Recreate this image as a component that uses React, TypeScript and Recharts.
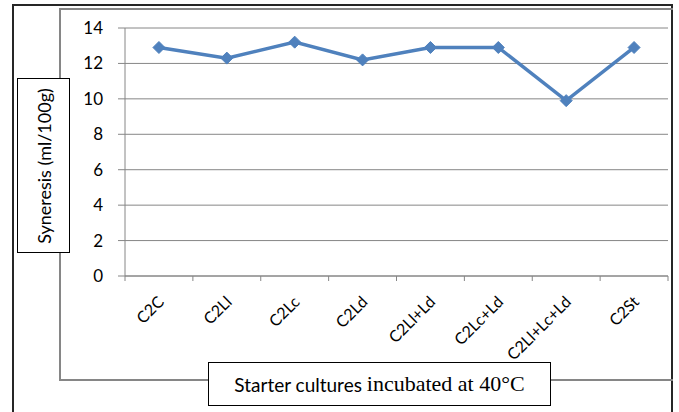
import { CartesianGrid, Line, LineChart, XAxis, YAxis } from "recharts";

const categories = ["C2C", "C2Ll", "C2Lc", "C2Ld", "C2Ll+Ld", "C2Lc+Ld", "C2Ll+Lc+Ld", "C2St"];
const syneresis = [12.9, 12.3, 13.2, 12.2, 12.9, 12.9, 9.9, 12.9];
const yTicks = [0, 2, 4, 6, 8, 10, 12, 14];

const chartData = categories.map((name, i) => ({ name, value: syneresis[i] }));

const PLOT_LEFT = 125;
const PLOT_RIGHT = 668;
const HALF_STEP = (PLOT_RIGHT - PLOT_LEFT) / categories.length / 2;
const FONT = "Lato, 'Open Sans', sans-serif";

const Diamond = (props: any) => {
  const { cx, cy } = props;
  if (cx == null || cy == null) return null;
  const r = 6;
  return (
    <polygon
      points={`${cx},${cy - r} ${cx + r},${cy} ${cx},${cy + r} ${cx - r},${cy}`}
      fill="#4F81BD"
      stroke="#4F81BD"
    />
  );
};

const XTick = (props: any) => {
  const { x, y, payload, index } = props;
  const last = index === categories.length - 1;
  return (
    <g>
      <line x1={x - HALF_STEP} x2={x - HALF_STEP} y1={y} y2={y + 5} stroke="#868686" />
      {last && <line x1={x + HALF_STEP} x2={x + HALF_STEP} y1={y} y2={y + 5} stroke="#868686" />}
      <text
        transform={`translate(${x + 6},${y + 27}) rotate(-45)`}
        textAnchor="end"
        fontSize={16}
        fontFamily={FONT}
        fill="#000"
      >
        {payload.value}
      </text>
    </g>
  );
};

export default function App() {
  return (
    <div style={{ position: "absolute", left: 0, top: 0, width: 679, height: 412, background: "#fff", overflow: "hidden" }}>
      {/* outer black frame */}
      <div style={{ position: "absolute", left: 12, top: 4, width: 661, height: 420, border: "2px solid #262626", boxSizing: "border-box" }} />
      {/* inner gray frame */}
      <div style={{ position: "absolute", left: 59, top: 8, width: 614, height: 373, border: "2px solid #868686", borderRight: "none", boxSizing: "border-box" }} />
      <div style={{ position: "absolute", left: 0, top: 0 }}>
        <LineChart width={679} height={412} data={chartData} margin={{ top: 28, right: 679 - PLOT_RIGHT, bottom: 96, left: 65 }}>
          <CartesianGrid vertical={false} stroke="#868686" />
          <XAxis
            dataKey="name"
            height={40}
            padding={{ left: HALF_STEP, right: HALF_STEP }}
            axisLine={{ stroke: "#868686" }}
            tickLine={false}
            tickSize={0}
            tickMargin={0}
            interval={0}
            tick={<XTick />}
          />
          <YAxis
            width={60}
            domain={[0, 14]}
            ticks={yTicks}
            axisLine={{ stroke: "#868686" }}
            tickLine={{ stroke: "#868686" }}
            tickSize={7}
            tickMargin={15}
            tick={{ fill: "#000", fontSize: 17, fontFamily: FONT }}
          />
          <Line
            dataKey="value"
            stroke="#4F81BD"
            strokeWidth={3.5}
            dot={<Diamond />}
            activeDot={false}
            isAnimationActive={false}
          />
        </LineChart>
      </div>
      {/* y-axis title box */}
      <div
        style={{
          position: "absolute",
          left: 17,
          top: 78,
          width: 53,
          height: 175,
          border: "1.5px solid #000",
          boxSizing: "border-box",
          background: "#fff",
          display: "flex",
          alignItems: "center",
          justifyContent: "center",
        }}
      >
        <span style={{ transform: "rotate(-90deg)", whiteSpace: "nowrap", fontFamily: FONT, fontSize: 18, color: "#000" }}>
          Syneresis (ml/100g)
        </span>
      </div>
      {/* x-axis title box */}
      <div
        style={{
          position: "absolute",
          left: 208,
          top: 362,
          width: 343,
          height: 44,
          border: "1.5px solid #000",
          boxSizing: "border-box",
          background: "#fff",
          display: "flex",
          alignItems: "center",
          justifyContent: "center",
          whiteSpace: "nowrap",
          color: "#000",
        }}
      >
        <span style={{ fontFamily: FONT, fontSize: 19 }}>Starter cultures&nbsp;</span>
        <span style={{ fontFamily: "'Liberation Serif', 'Times New Roman', serif", fontSize: 22 }}>incubated at 40°C</span>
      </div>
    </div>
  );
}
